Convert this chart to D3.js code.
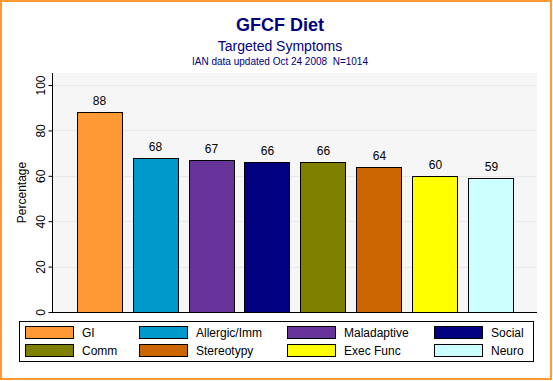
<!DOCTYPE html>
<html><head><meta charset="utf-8">
<script src="https://cdn.jsdelivr.net/npm/d3@7"></script>
<style>html,body{margin:0;padding:0;background:#fff;}svg{display:block;font-family:"Liberation Sans",Arial,sans-serif;}text{white-space:pre;}</style>
</head><body><svg id="c" width="553" height="381"></svg>
<script>
const categories = ["GI","Allergic/Imm","Maladaptive","Social","Comm","Stereotypy","Exec Func","Neuro"];
const values = [88,68,67,66,66,64,60,59];
const colors = ["#FF9933","#0099CC","#663399","#000080","#808000","#CC6600","#FFFF00","#CCFFFF"];
const yTicks = [0,20,40,60,80,100];
const title = "GFCF Diet", subtitle = "Targeted Symptoms", note = "IAN data updated Oct 24 2008  N=1014";

const svg = d3.select("#c");
svg.append("rect").attr("x",1).attr("y",1).attr("width",550).attr("height",378)
  .attr("fill","#fff").attr("stroke","#FF9933").attr("stroke-width",2);

const L=53, R=537, T=73, B=312;
const y = d3.scaleLinear().domain([0,105.3]).range([B,T]);
const x = d3.scaleBand().domain(categories).range([L,R]).paddingInner(0.196).paddingOuter(0.42);

svg.append("rect").attr("x",L).attr("y",T).attr("width",R-L).attr("height",B-T).attr("fill","#f6f6f6");
svg.append("g").selectAll("line").data(yTicks.filter(d=>d>0)).join("line")
  .attr("x1",L).attr("x2",R).attr("y1",d=>Math.round(y(d))+0.5).attr("y2",d=>Math.round(y(d))+0.5)
  .attr("stroke","#e8e8e8").attr("stroke-width",1);

svg.append("text").attr("x",280).attr("y",31).attr("text-anchor","middle").attr("fill","#000080")
  .attr("font-size",18).attr("font-weight","bold").text(title);
svg.append("text").attr("x",280).attr("y",51).attr("text-anchor","middle").attr("fill","#000080")
  .attr("font-size",14).text(subtitle);
svg.append("text").attr("x",280).attr("y",65).attr("text-anchor","middle").attr("fill","#000080")
  .attr("font-size",10).text(note);

// bars
svg.append("g").selectAll("rect").data(values).join("rect")
  .attr("x",(d,i)=>Math.round(x(categories[i]))+0.5).attr("y",d=>Math.round(y(d))+0.5)
  .attr("width",Math.round(x.bandwidth())).attr("height",d=>B-Math.round(y(d)))
  .attr("fill",(d,i)=>colors[i]).attr("stroke","#000").attr("stroke-width",1);
svg.append("g").selectAll("text").data(values).join("text")
  .attr("x",(d,i)=>x(categories[i])+x.bandwidth()/2+0.5).attr("y",d=>y(d)-7)
  .attr("text-anchor","middle").attr("font-size",12).attr("fill","#000").text(d=>d);

// axes
const yAxis = svg.append("g").attr("transform",`translate(${L-0.5},0)`)
  .call(d3.axisLeft(y).tickValues(yTicks).tickSize(4).tickPadding(3));
yAxis.select(".domain").attr("d",`M0,${T}V${B+0.5}`);
yAxis.selectAll(".tick text").attr("transform","rotate(-90)").attr("text-anchor","middle")
  .attr("x",0).attr("y",-8).attr("dy","0").attr("font-size",12).attr("fill","#000")
  .attr("font-family","Liberation Sans, Arial, sans-serif");
svg.append("line").attr("x1",L-1).attr("x2",R).attr("y1",B+0.5).attr("y2",B+0.5).attr("stroke","#000");
svg.append("text").attr("transform",`translate(26,${(T+B)/2}) rotate(-90)`).attr("text-anchor","middle")
  .attr("font-size",12).attr("fill","#000").text("Percentage");

// legend
svg.append("rect").attr("x",19.5).attr("y",321.5).attr("width",514).attr("height",40)
  .attr("fill","#fff").attr("stroke","#000");
const colX = [25,139,287,434], rowY = [326,344];
const lg = svg.append("g").selectAll("g").data(categories).join("g")
  .attr("transform",(d,i)=>`translate(${colX[i%4]},${rowY[Math.floor(i/4)]})`);
lg.append("rect").attr("x",0.5).attr("y",0.5).attr("width",48).attr("height",12)
  .attr("fill",(d,i)=>colors[i]).attr("stroke","#000");
lg.append("text").attr("x",57).attr("y",11).attr("font-size",12).attr("fill","#000").text(d=>d);
</script></body></html>
